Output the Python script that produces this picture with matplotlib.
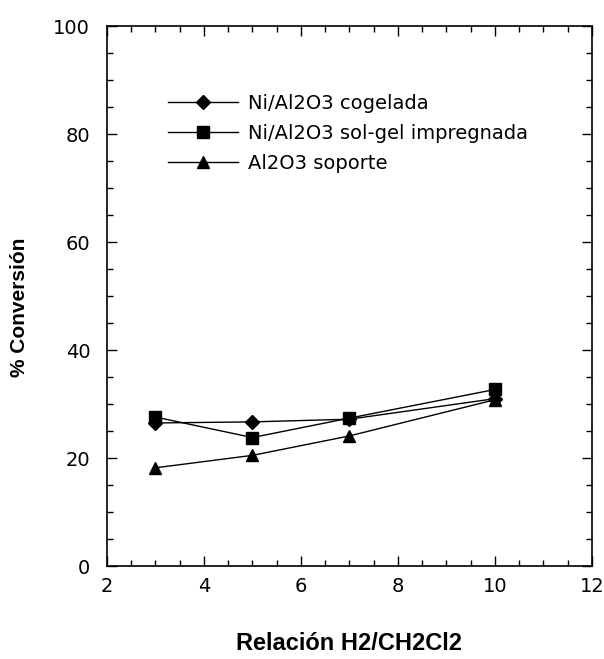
import matplotlib.pyplot as plt
from matplotlib.ticker import MultipleLocator

plt.rcParams['font.family'] = ['DejaVu Sans']

ratio = [3, 5, 7, 10]
cogelada = [26.5, 26.7, 27.2, 31.0]
solgel = [27.6, 23.8, 27.4, 32.7]
soporte = [18.2, 20.5, 24.1, 30.8]

fig = plt.figure(figsize=(6.04, 6.59), dpi=100)
ax = fig.add_axes([0.177, 0.141, 0.803, 0.8195])

ax.plot(ratio, cogelada, color='black', lw=1, marker='D', ms=7, label='Ni/Al2O3 cogelada')
ax.plot(ratio, solgel, color='black', lw=1, marker='s', ms=8.5, label='Ni/Al2O3 sol-gel impregnada')
ax.plot(ratio, soporte, color='black', lw=1, marker='^', ms=9, label='Al2O3 soporte')

ax.set_xlim(2, 12)
ax.set_ylim(0, 100)
ax.xaxis.set_major_locator(MultipleLocator(2))
ax.xaxis.set_minor_locator(MultipleLocator(0.5))
ax.yaxis.set_major_locator(MultipleLocator(20))
ax.yaxis.set_minor_locator(MultipleLocator(5))
ax.tick_params(which='both', direction='in', top=True, right=True, labelsize=14, width=1)
ax.tick_params(which='major', length=7)
ax.tick_params(which='minor', length=4)
ax.tick_params(axis='y', which='major', pad=12)
ax.tick_params(axis='x', which='major', pad=8)
for s in ax.spines.values():
    s.set_linewidth(1.2)

ax.set_xlabel('Relación H2/CH2Cl2', fontsize=17, fontweight='bold', labelpad=26,
              family='Liberation Sans')
ax.set_ylabel('% Conversión', fontsize=15, fontweight='bold', family='Liberation Sans')
ax.yaxis.set_label_coords(-0.16, 0.48)

ax.legend(loc='upper left', bbox_to_anchor=(0.11, 0.888), borderaxespad=0, frameon=False,
          fontsize=14, handlelength=3.6, labelspacing=0.55, handletextpad=0.5)

fig.savefig('out.png', dpi=100)
